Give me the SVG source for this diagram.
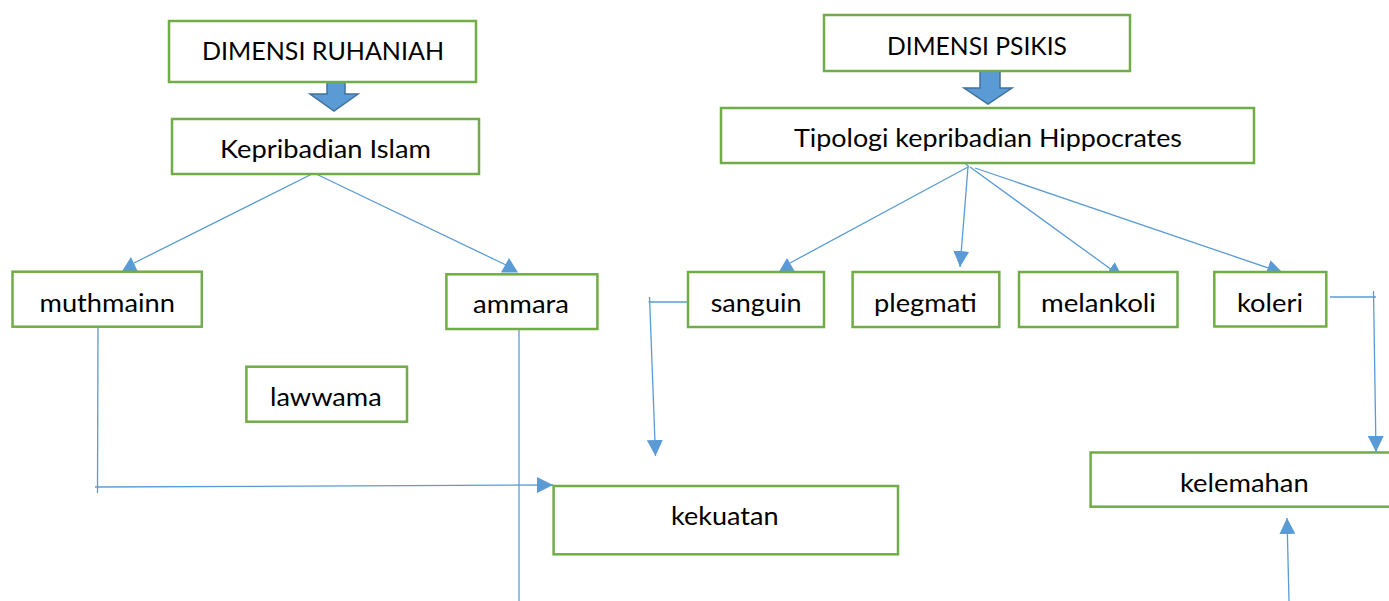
<svg xmlns="http://www.w3.org/2000/svg" width="1389" height="601" viewBox="0 0 1389 601">
<style>
.box{fill:#fff;stroke:#70AD47;stroke-width:2.5}
.lbl{font-family:Lato,"Open Sans","Liberation Sans",sans-serif;font-size:25px;fill:#000}
.con{fill:none;stroke:#5B9BD5;stroke-width:1.3}
.head{fill:#5B9BD5;stroke:none}
.block{fill:#5B9BD5;stroke:#41719C;stroke-width:1.5}
</style>
<defs>
<marker id="ah" markerUnits="userSpaceOnUse" markerWidth="16" markerHeight="16" refX="16" refY="8" orient="auto">
<path d="M0,0 L16,8 L0,16 z" fill="#5B9BD5"/>
</marker>
</defs>
<rect width="1389" height="601" fill="#fff"/>

<g id="connectors">
<polygon class="block" points="327,80 345,80 345,94 358,94 334,111 310,94 327,94"/>
<polygon class="block" points="980,71 1000,71 1000,88 1012,88 988,104 964,88 980,88"/>
<line class="con" x1="314" y1="173" x2="134" y2="263"/>
<polygon class="head" points="131,257 121.5,272 138,272"/>
<line class="con" x1="314" y1="173" x2="506" y2="265"/>
<polygon class="head" points="509,258 501,272.5 518,272.5"/>
<line class="con" x1="961" y1="159" x2="969" y2="167"/>
<line class="con" x1="968" y1="167" x2="790" y2="263"/>
<polygon class="head" points="787,258 779,271.7 795,271.7"/>
<line class="con" x1="968" y1="167" x2="960" y2="267" marker-end="url(#ah)"/>
<line class="con" x1="970" y1="167" x2="1123" y2="278" marker-end="url(#ah)"/>
<line class="con" x1="975" y1="168" x2="1283" y2="273" marker-end="url(#ah)"/>
<line class="con" x1="98" y1="327" x2="97.5" y2="493"/>
<line class="con" x1="95" y1="487" x2="553" y2="485" marker-end="url(#ah)"/>
<line class="con" x1="519" y1="326" x2="519" y2="601"/>
<line class="con" x1="648.5" y1="302" x2="688" y2="302"/>
<line class="con" x1="649.5" y1="297" x2="655.5" y2="456" marker-end="url(#ah)"/>
<line class="con" x1="1330" y1="297" x2="1376" y2="297"/>
<line class="con" x1="1373.5" y1="291" x2="1376" y2="452" marker-end="url(#ah)"/>
<line class="con" x1="1289" y1="601" x2="1287" y2="518" marker-end="url(#ah)"/>
</g>

<g id="dimensi-ruhaniah"><rect class="box" x="169" y="21" width="307" height="61"/><text class="lbl" x="202" y="60" textLength="242" lengthAdjust="spacingAndGlyphs">DIMENSI RUHANIAH</text></g>
<g id="kepribadian-islam"><rect class="box" x="172" y="119" width="307" height="55"/><text class="lbl" x="220" y="158" textLength="211" lengthAdjust="spacingAndGlyphs">Kepribadian Islam</text></g>
<g id="dimensi-psikis"><rect class="box" x="824" y="15" width="306" height="56"/><text class="lbl" x="887" y="54.5" textLength="180" lengthAdjust="spacingAndGlyphs">DIMENSI PSIKIS</text></g>
<g id="tipologi"><rect class="box" x="721" y="108" width="533" height="55"/><text class="lbl" x="794" y="146.5" textLength="388" lengthAdjust="spacingAndGlyphs">Tipologi kepribadian Hippocrates</text></g>
<g id="muthmainn"><rect class="box" x="12.5" y="271.7" width="189.3" height="55"/><text class="lbl" x="39.5" y="311.5" textLength="135.5" lengthAdjust="spacingAndGlyphs">muthmainn</text></g>
<g id="ammara"><rect class="box" x="446.4" y="274.3" width="151" height="54.7"/><text class="lbl" x="473" y="313.3" textLength="96" lengthAdjust="spacingAndGlyphs">ammara</text></g>
<g id="sanguin"><rect class="box" x="688" y="272" width="136" height="55"/><text class="lbl" x="710.7" y="311.5" textLength="90.8" lengthAdjust="spacingAndGlyphs">sanguin</text></g>
<g id="plegmati"><rect class="box" x="852.6" y="272" width="146.7" height="55"/><text class="lbl" x="874" y="311.5" textLength="102.8" lengthAdjust="spacingAndGlyphs">plegmati</text></g>
<g id="melankoli"><rect class="box" x="1019" y="272" width="158.5" height="55"/><text class="lbl" x="1041" y="311.5" textLength="115" lengthAdjust="spacingAndGlyphs">melankoli</text></g>
<g id="koleri"><rect class="box" x="1214.3" y="272" width="112" height="54.5"/><text class="lbl" x="1237" y="311.5" textLength="66" lengthAdjust="spacingAndGlyphs">koleri</text></g>
<g id="lawwama"><rect class="box" x="246.4" y="366.7" width="160.6" height="55"/><text class="lbl" x="270" y="406" textLength="111.7" lengthAdjust="spacingAndGlyphs">lawwama</text></g>
<g id="kekuatan"><rect class="box" x="553.6" y="486" width="344.4" height="68.3"/><text class="lbl" x="671" y="525" textLength="107.6" lengthAdjust="spacingAndGlyphs">kekuatan</text></g>
<g id="kelemahan"><rect class="box" x="1090.6" y="452.5" width="320" height="54.2"/><text class="lbl" x="1180" y="491.7" textLength="128.7" lengthAdjust="spacingAndGlyphs">kelemahan</text></g>
</svg>
